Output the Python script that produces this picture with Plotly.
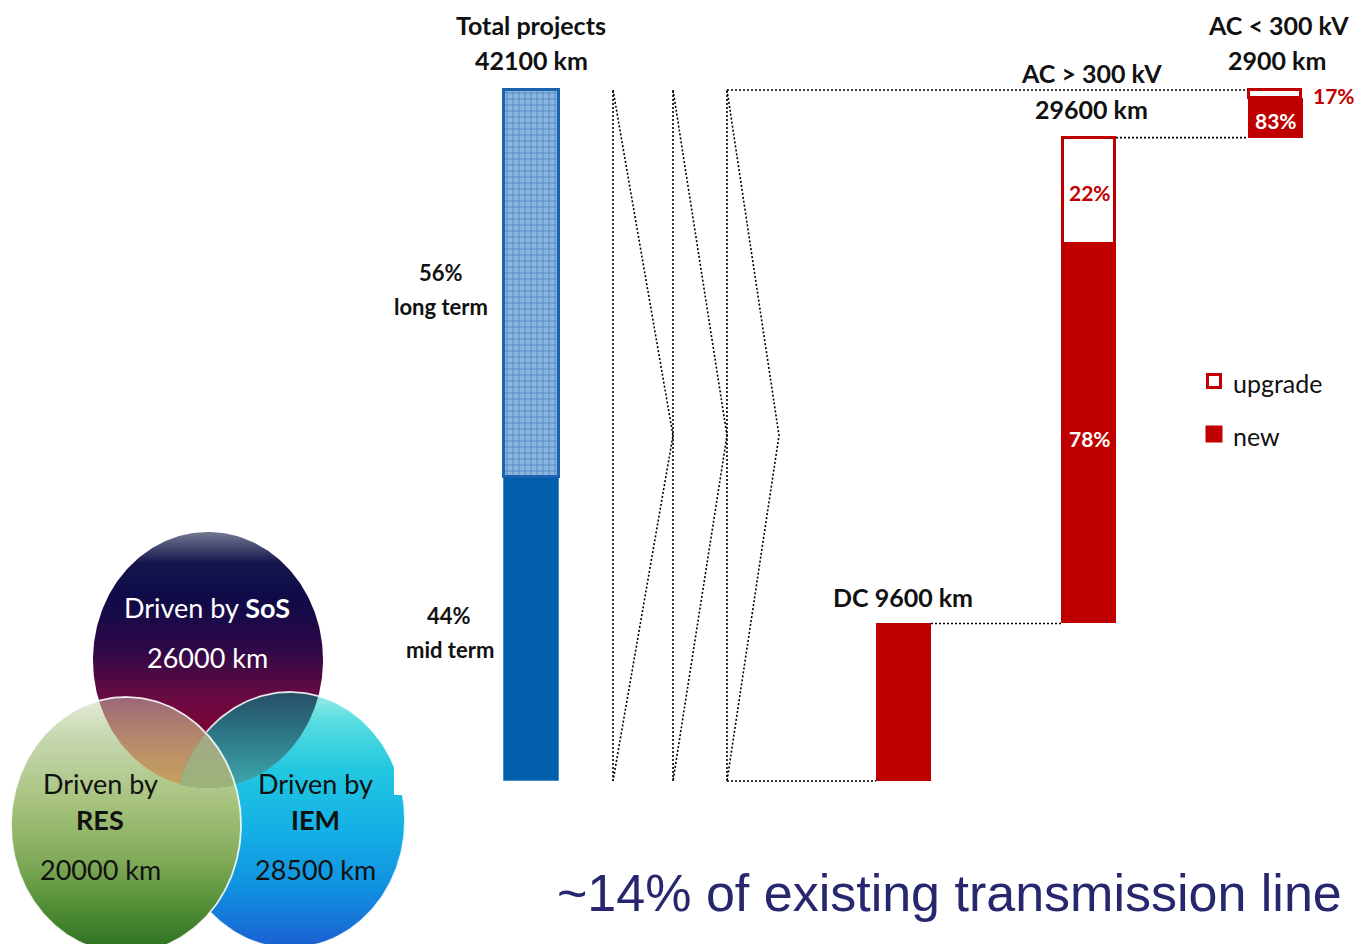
import numpy as np
import plotly.graph_objects as go

# ---------------- data ----------------
categories = ["Total projects", "DC", "AC > 300 kV", "AC < 300 kV"]
total_km = 42100
dc_km = 9600
ac_high_km = 29600
ac_low_km = 2900
total_term_labels = ["long term", "mid term"]
total_term_shares = [0.56, 0.44]
ac_high_shares = {"new": 0.78, "upgrade": 0.22}
ac_low_shares = {"new": 0.83, "upgrade": 0.17}
legend_labels = ["upgrade", "new"]
venn_names = ["SoS", "RES", "IEM"]
venn_km = [26000, 20000, 28500]
footer_text = "~14% of existing transmission line"

# ---------------- layout constants (pixels) ----------------
W, H = 1358, 944
BASE_PY, TOP_PY = 781, 90          # pixel rows of 0 km and total km
KPP = total_km / (BASE_PY - TOP_PY)  # km per pixel
Y_RANGE = [-(H - BASE_PY) * KPP, total_km + TOP_PY * KPP]
BAR_W = 55
X_TOTAL, X_DC, X_ACH, X_ACL = 531.5, 903.5, 1088.5, 1275
X_CONN = [613, 673, 727, 779]
RED = "#c00000"
FONT = "Lato"

fig = go.Figure()

# ---------------- Venn diagram (pixel axes y2: y2 = H - py) ----------------
ELL = {"SoS": (208, 660), "RES": (126, 825), "IEM": (290, 820)}
RX, RY = 115, 128

def ellipse(cx, cy, rx=RX, ry=RY, n=240):
    t = np.linspace(0, 2 * np.pi, n, endpoint=False)
    return list(zip(cx + rx * np.cos(t), (H - cy) + ry * np.sin(t)))

def inside_ell(p, cx, cy, rx=RX, ry=RY):
    return ((p[0] - cx) / rx) ** 2 + ((p[1] - (H - cy)) / ry) ** 2 < 1

def clip(subject, clipper):
    def inside(p, a, b):
        return (b[0] - a[0]) * (p[1] - a[1]) - (b[1] - a[1]) * (p[0] - a[0]) >= 0
    def inter(p1, p2, a, b):
        x1, y1 = p1; x2, y2 = p2; x3, y3 = a; x4, y4 = b
        den = (x1 - x2) * (y3 - y4) - (y1 - y2) * (x3 - x4)
        t = ((x1 - x3) * (y3 - y4) - (y1 - y3) * (x3 - x4)) / den
        return (x1 + t * (x2 - x1), y1 + t * (y2 - y1))
    out = subject
    for i in range(len(clipper)):
        a, b = clipper[i], clipper[(i + 1) % len(clipper)]
        inp, out = out, []
        if not inp:
            break
        s = inp[-1]
        for e in inp:
            if inside(e, a, b):
                if not inside(s, a, b):
                    out.append(inter(s, e, a, b))
                out.append(e)
            elif inside(s, a, b):
                out.append(inter(s, e, a, b))
            s = e
    return out

def grad_poly(poly, stops):
    xs = [p[0] for p in poly] + [poly[0][0]]
    ys = [p[1] for p in poly] + [poly[0][1]]
    fig.add_trace(go.Scatter(
        x=xs, y=ys, yaxis="y2", mode="lines", fill="toself",
        line=dict(width=0, color="rgba(0,0,0,0)"),
        fillgradient=dict(type="vertical", colorscale=stops,
                          start=min(ys), stop=max(ys)),
        hoverinfo="skip"))

def outline(poly, color, width, hide_in=None):
    pts = poly + [poly[0]]
    xs, ys = [], []
    for p in pts:
        if hide_in is not None and inside_ell(p, *hide_in):
            xs.append(None); ys.append(None)
        else:
            xs.append(p[0]); ys.append(p[1])
    fig.add_trace(go.Scatter(x=xs, y=ys, yaxis="y2", mode="lines", connectgaps=False,
                             line=dict(color=color, width=width), hoverinfo="skip"))

sos = ellipse(*ELL["SoS"])
res = ellipse(*ELL["RES"])
iem = ellipse(*ELL["IEM"])

grad_poly(sos, [[0, "#8c0a3c"], [0.2, "#7d0535"], [0.35, "#6a0a42"], [0.55, "#2c0848"],
                [0.75, "#0e0b48"], [0.88, "#15164e"], [1, "#767892"]])
grad_poly(iem, [[0, "#1a5fd0"], [0.23, "#1090e0"], [0.46, "#14b0e6"], [0.7, "#22c8e0"],
                [0.89, "#58dde0"], [1, "#a0ece4"]])
grad_poly(res, [[0, "#2a7020"], [0.17, "#4f8c34"], [0.36, "#80aa58"], [0.6, "#a8c480"],
                [0.83, "#c4d6ac"], [1, "#e6ecda"]])
lens_sr = clip(sos, res)
lens_si = clip(sos, iem)
grad_poly(lens_sr, [[0, "#c6a45c"], [0.5, "#b88a6a"], [1, "#9a6878"]])
grad_poly(lens_si, [[0, "#3fa8ae"], [0.5, "#2e7c8a"], [1, "#264f66"]])
triple = clip(lens_sr, iem)
if triple:
    grad_poly(triple, [[0, "#9cb478"], [1, "#a4a888"]])
outline(iem, "rgba(255,255,255,0.85)", 1.8, hide_in=ELL["RES"])
outline(res, "rgba(255,255,255,0.85)", 1.8)

# ---------------- bars ----------------
mid_km = total_km * total_term_shares[1]
long_km = total_km * total_term_shares[0]
fig.add_trace(go.Bar(x=[X_TOTAL], y=[mid_km], base=[0], width=BAR_W,
                     marker=dict(color="#005eaa", line=dict(color="#4a8cc8", width=1)),
                     hoverinfo="skip"))
fig.add_trace(go.Bar(x=[X_TOTAL], y=[long_km], base=[mid_km], width=BAR_W,
                     marker=dict(color="#8db6de",
                                 pattern=dict(shape="+", fgcolor="#1f62ab", bgcolor="#8cb6df",
                                              size=6, solidity=0.3),
                                 line=dict(color="#1b63ae", width=3)),
                     hoverinfo="skip"))

fig.add_trace(go.Bar(x=[X_DC], y=[dc_km], base=[0], width=BAR_W,
                     marker=dict(color=RED, line=dict(width=0)), hoverinfo="skip"))

ach_new = ac_high_km * ac_high_shares["new"]
ach_up = ac_high_km * ac_high_shares["upgrade"]
acl_new = ac_low_km * ac_low_shares["new"]
acl_up = ac_low_km * ac_low_shares["upgrade"]
fig.add_trace(go.Bar(x=[X_ACH, X_ACL], y=[ach_new, acl_new],
                     base=[dc_km, dc_km + ac_high_km], width=BAR_W,
                     marker=dict(color=RED, line=dict(width=0)), hoverinfo="skip"))
fig.add_trace(go.Bar(x=[X_ACH, X_ACL], y=[ach_up, acl_up],
                     base=[dc_km + ach_new, dc_km + ac_high_km + acl_new], width=BAR_W - 3,
                     marker=dict(color="white", line=dict(color=RED, width=3)),
                     hoverinfo="skip"))

# ---------------- dotted connectors ----------------
DOT = dict(color="black", width=1.6, dash="2px,2px")
def conn(xs, ys):
    fig.add_trace(go.Scatter(x=xs, y=ys, mode="lines", line=DOT, hoverinfo="skip"))

half = total_km / 2
for i in range(3):
    conn([X_CONN[i], X_CONN[i]], [0, total_km])
    conn([X_CONN[i], X_CONN[i + 1], X_CONN[i]], [total_km, half, 0])
conn([X_CONN[2], X_ACL - BAR_W / 2], [total_km, total_km])
conn([X_CONN[2], X_DC - BAR_W / 2], [0, 0])
conn([X_DC + BAR_W / 2, X_ACH - BAR_W / 2], [dc_km, dc_km])
conn([X_ACH + BAR_W / 2, X_ACL - BAR_W / 2], [dc_km + ac_high_km, dc_km + ac_high_km])

# ---------------- legend markers ----------------
fig.add_trace(go.Scatter(x=[1214], y=[H - 381], yaxis="y2", mode="markers",
                         marker=dict(symbol="square", size=13, color="white",
                                     line=dict(color=RED, width=3)), hoverinfo="skip"))
fig.add_trace(go.Scatter(x=[1214], y=[H - 434], yaxis="y2", mode="markers",
                         marker=dict(symbol="square", size=17, color=RED,
                                     line=dict(width=0)), hoverinfo="skip"))

# ---------------- annotations ----------------
ann = []
def txt(text, px, py, size, color="#111111", family=FONT, xanchor="center"):
    ann.append(dict(text=text, x=px, y=1 - py / H, xref="x", yref="paper",
                    xanchor=xanchor, yanchor="middle", showarrow=False,
                    font=dict(family=family, size=size, color=color)))

def pct(v):
    return f"{round(v * 100)}%"

txt(f"<b>{categories[0]}</b>", 531, 25, 25)
txt(f"<b>{total_km} km</b>", 531, 60, 25)
txt(f"<b>{pct(total_term_shares[0])}</b>", 441, 272, 22)
txt(f"<b>{total_term_labels[0]}</b>", 441, 306, 22)
txt(f"<b>{pct(total_term_shares[1])}</b>", 449, 615, 22)
txt(f"<b>{total_term_labels[1]}</b>", 450, 649, 22)
txt(f"<b>{categories[1]} {dc_km} km</b>", 903, 597, 25)
txt(f"<b>{categories[2]}</b>", 1091, 73, 25)
txt(f"<b>{ac_high_km} km</b>", 1091, 109, 25)
txt(f"<b>{categories[3]}</b>", 1278, 25, 25)
txt(f"<b>{ac_low_km} km</b>", 1277, 60, 25)
txt(f"<b>{pct(ac_high_shares['upgrade'])}</b>", 1090, 193, 21, RED)
txt(f"<b>{pct(ac_high_shares['new'])}</b>", 1090, 438, 21, "white")
txt(f"<b>{pct(ac_low_shares['new'])}</b>", 1276, 120, 21, "white")
txt(f"<b>{pct(ac_low_shares['upgrade'])}</b>", 1334, 96, 21, RED)
txt(legend_labels[0], 1231, 383, 25, xanchor="left")
txt(legend_labels[1], 1231, 436, 25, xanchor="left")

txt(f"Driven by <b>{venn_names[0]}</b>", 207, 607, 27, "white")
txt(f"{venn_km[0]} km", 207, 657, 27, "white")
txt("Driven by", 100, 783, 27)
txt(f"<b>{venn_names[1]}</b>", 100, 819, 27)
txt(f"{venn_km[1]} km", 100, 869, 27)
txt("Driven by", 315, 783, 27)
txt(f"<b>{venn_names[2]}</b>", 315, 819, 27)
txt(f"{venn_km[2]} km", 315, 869, 27)

txt(footer_text, 555, 893, 52, "#27276f", family="Liberation Sans, Arial", xanchor="left")

fig.update_layout(
    width=W, height=H, margin=dict(l=0, r=0, t=0, b=0),
    paper_bgcolor="white", plot_bgcolor="white", showlegend=False,
    barmode="overlay", bargap=0,
    xaxis=dict(range=[0, W], visible=False, fixedrange=True),
    yaxis=dict(range=Y_RANGE, visible=False, fixedrange=True),
    yaxis2=dict(range=[0, H], overlaying="y", visible=False, fixedrange=True),
    annotations=ann,
    shapes=[dict(type="rect", xref="x", yref="y2", x0=394, x1=440, y0=H - 795, y1=H - 675,
                 fillcolor="white", line=dict(width=0), layer="above")],
)

fig.write_html("out.html")
